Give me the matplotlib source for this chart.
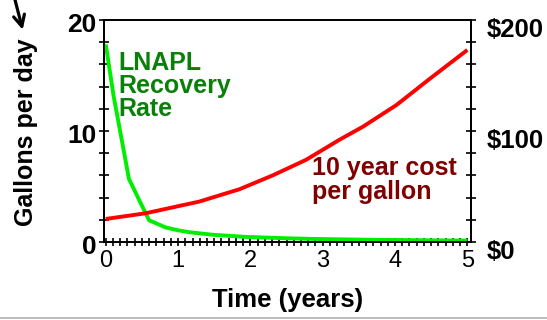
import matplotlib
matplotlib.use("Agg")
import matplotlib.pyplot as plt
from matplotlib.ticker import MultipleLocator
from matplotlib.transforms import ScaledTranslation
from matplotlib.lines import Line2D
from matplotlib.patches import FancyArrowPatch

plt.rcParams['font.family'] = ['Liberation Sans', 'DejaVu Sans']

# LNAPL recovery rate (gallons per day) over time (years)
rate_years = [0.0, 0.11, 0.23, 0.32, 0.46, 0.60, 0.83, 1.0, 1.15, 1.47, 1.94, 2.5, 2.86, 3.78, 5.0]
rate_gpd = [17.8, 13.1, 8.9, 5.7, 3.8, 1.95, 1.3, 1.05, 0.88, 0.65, 0.45, 0.33, 0.27, 0.18, 0.12]

# Ten-year cost per gallon recovered (dollars)
cost_years = [0.0, 0.55, 1.29, 1.85, 2.31, 2.77, 3.0, 3.23, 3.56, 4.02, 4.49, 5.0]
cost_dollars = [20.7, 25.8, 36.3, 47.5, 60.0, 74.0, 83.0, 92.0, 104.0, 123.4, 147.5, 173.0]

left_ticks = [0, 10, 20]
right_ticks = [0, 100, 200]
right_labels = ['$0', '$100', '$200']
x_ticks = [0, 1, 2, 3, 4, 5]

fig = plt.figure(figsize=(5.47, 3.20), dpi=100)
ax = fig.add_axes([0.190, 0.244, 0.671, 0.6935])
ax2 = ax.twinx()

ax.plot(rate_years, rate_gpd, color='#00ee00', lw=2.8, solid_capstyle='butt', zorder=3)
ax2.plot(cost_years, cost_dollars, color='#ff0000', lw=2.8, solid_capstyle='butt', zorder=2)

ax.set_xlim(-0.025, 5.05)
ax.set_ylim(0, 20)
ax2.set_ylim(0, 200)

for spine in list(ax.spines.values()) + list(ax2.spines.values()):
    spine.set_linewidth(1.3)
    spine.set_color('black')

ax.set_xticks(x_ticks)
ax.set_xticklabels([str(v) for v in x_ticks], fontsize=17)
ax.xaxis.set_minor_locator(MultipleLocator(0.1))
ax.tick_params(axis='x', which='both', direction='inout', length=6, width=1.2, pad=3)

ax.set_yticks(left_ticks)
ax.set_yticklabels([str(v) for v in left_ticks], fontsize=19, fontweight='bold')
ax.yaxis.set_minor_locator(MultipleLocator(2))
ax.tick_params(axis='y', which='both', direction='inout', length=7, width=1.2, pad=2)

ax2.set_yticks(right_ticks)
ax2.set_yticklabels(right_labels, fontsize=18.5, fontweight='bold')
ax2.yaxis.set_minor_locator(MultipleLocator(20))
ax2.tick_params(axis='y', which='both', direction='inout', length=7, width=1.2, pad=8)

# nudge value labels slightly below their ticks
for t in ax.yaxis.get_major_ticks():
    t.label1.set_transform(t.label1.get_transform() + ScaledTranslation(0, -3 / 100, fig.dpi_scale_trans))
for t in ax2.yaxis.get_major_ticks():
    t.label2.set_transform(t.label2.get_transform() + ScaledTranslation(0, -8 / 100, fig.dpi_scale_trans))

ax.set_xlabel('Time (years)', fontsize=18.5, fontweight='bold', labelpad=11)

fig.text(0.048, 0.587, 'Gallons per day', rotation=90, fontsize=18, fontweight='bold',
         ha='center', va='center')

ax.text(0.17, 17.2, 'LNAPL\nRecovery\nRate', color='#0a800a', fontsize=18, fontweight='bold',
        ha='left', va='top', linespacing=0.95)
ax.text(2.85, 7.7, '10 year cost\nper gallon', color='#800000', fontsize=18, fontweight='bold',
        ha='left', va='top', linespacing=0.95)

fig.add_artist(Line2D([0.0, 1.0], [0.006, 0.006], transform=fig.transFigure, color='#b0b0b0', lw=1.2))
fig.add_artist(FancyArrowPatch((0.026, 1.01), (0.0415, 0.907), transform=fig.transFigure,
                               arrowstyle='->', lw=2.3, color='black', mutation_scale=20,
                               shrinkA=0, shrinkB=0))

fig.savefig('out.png', dpi=100)
